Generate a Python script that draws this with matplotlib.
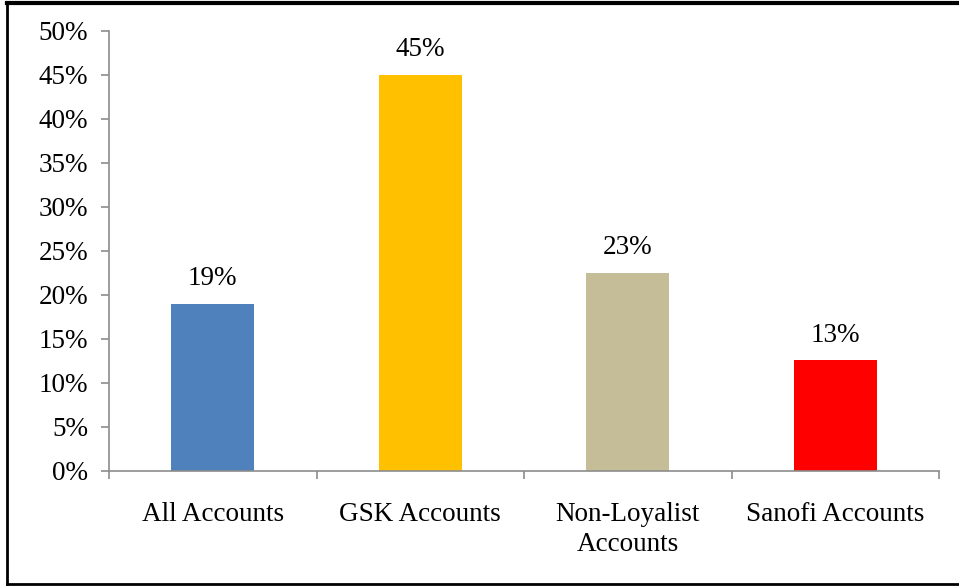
import matplotlib
matplotlib.use("Agg")
import matplotlib.pyplot as plt
from matplotlib.lines import Line2D
import numpy as np

categories = ["All Accounts", "GSK Accounts", "Non-Loyalist\nAccounts", "Sanofi Accounts"]
values = [0.19, 0.45, 0.225, 0.126]
value_labels = ["19%", "45%", "23%", "13%"]
colors = ["#4F81BD", "#FFC000", "#C4BD97", "#FF0000"]
yticks = [0, 0.05, 0.10, 0.15, 0.20, 0.25, 0.30, 0.35, 0.40, 0.45, 0.50]

plt.rcParams['font.family'] = ['Liberation Serif', 'DejaVu Serif']
FS = 19.5

fig = plt.figure(figsize=(9.59, 5.87), dpi=100)
ax = fig.add_axes([109/959, 116/587, 830/959, 440/587])

x = np.arange(len(categories))
bars = ax.bar(x, values, width=0.4, color=colors, zorder=2)
for xi, v, lab in zip(x, values, value_labels):
    ax.annotate(lab, (xi, v), xytext=(0, 9), textcoords="offset points",
                ha="center", va="bottom", fontsize=FS, color="black")

ax.set_xlim(-0.5, len(categories) - 0.5)
ax.set_ylim(0, 0.5)
ax.set_yticks(yticks)
ax.set_yticklabels([f"{int(round(t*100))}%" for t in yticks], fontsize=FS)
ax.set_xticks(x)
ax.set_xticklabels(categories, fontsize=FS, linespacing=1.3)
ax.set_xticks(np.arange(len(categories) + 1) - 0.5, minor=True)

grey = "#8C8C8C"
for s in ["top", "right"]:
    ax.spines[s].set_visible(False)
for s in ["left", "bottom"]:
    ax.spines[s].set_color(grey)
    ax.spines[s].set_linewidth(1.2)
ax.tick_params(axis="y", direction="out", length=6, width=1.2, color=grey, pad=9)
ax.tick_params(axis="x", which="major", length=0, pad=22)
ax.tick_params(axis="x", which="minor", direction="out", length=6, width=1.2, color=grey)

# figure frame (top, left, bottom)
fx0, fy0, fy1 = 7/959, 1 - 584/587, 1 - 3/587
fig.add_artist(Line2D([fx0, 1.0], [fy1, fy1], transform=fig.transFigure, color="black", lw=3))
fig.add_artist(Line2D([fx0, fx0], [fy0, fy1], transform=fig.transFigure, color="black", lw=2))
fig.add_artist(Line2D([fx0, 1.0], [fy0, fy0], transform=fig.transFigure, color="black", lw=2))

fig.savefig("out.png", dpi=100)
